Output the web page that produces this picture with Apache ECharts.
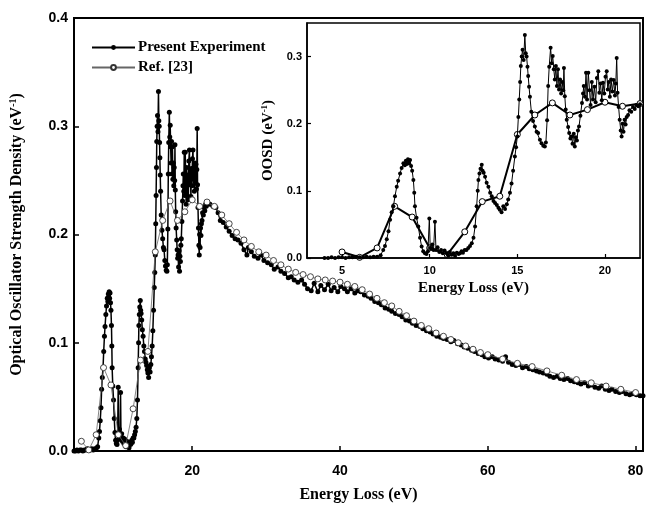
<!DOCTYPE html>
<html><head><meta charset="utf-8">
<script src="https://cdn.jsdelivr.net/npm/echarts@6/dist/echarts.min.js"></script>
<style>html,body{margin:0;padding:0;background:#fff}#c{width:647px;height:508px}</style>
</head><body><div id="c"></div>
<script>
// ---- data ----
var expEnergy = [4.0,4.2,4.4,4.6,4.8,5.0,5.2,5.4,5.6,5.8,6.0,6.2,6.4,6.6,6.8,7.0,7.2,
7.35,7.45,7.55,7.65,7.74,7.83,7.93,8.02,8.12,8.2,8.31,8.4,8.5,8.58,8.64,8.7,8.76,8.82,8.88,8.94,9.0,9.07,9.12,9.16,9.25,9.35,9.45,9.54,9.63,9.73,9.82,9.9,
9.98,10.03,10.1,10.15,10.22,10.3,10.36,10.45,10.55,10.65,10.75,10.85,10.97,11.05,11.15,11.25,11.35,11.45,11.55,11.65,11.73,11.82,11.9,12.0,12.1,12.2,12.3,12.4,12.5,12.59,12.68,12.74,12.78,12.84,12.9,12.97,13.02,13.08,13.16,13.25,13.35,13.45,13.54,13.64,13.73,13.83,13.92,14.0,14.1,14.2,14.3,14.4,14.48,14.58,14.67,14.76,14.86,14.93,15.0,15.06,15.11,15.16,15.2,15.25,15.3,15.36,15.43,15.48,15.53,15.58,15.62,15.67,15.72,15.8,15.9,16.0,16.1,16.19,16.29,16.38,16.48,16.57,16.63,16.7,16.76,16.82,16.9,16.96,17.02,17.08,17.14,17.2,17.26,17.32,17.38,17.44,17.5,17.56,17.62,17.66,17.71,17.76,17.82,17.9,17.96,18.03,18.09,18.15,18.22,18.28,18.34,18.4,18.46,18.52,18.6,18.69,18.75,18.79,18.86,18.92,18.98,19.05,19.12,19.18,19.25,19.32,19.4,19.47,19.54,19.62,19.68,19.75,19.82,19.89,19.96,20.03,20.1,20.16,20.22,20.28,20.35,20.42,20.5,20.57,20.62,20.67,20.72,20.78,20.84,20.9,20.95,21.0,21.06,21.12,21.18,21.24,21.32,21.4,21.5,21.6,21.7,21.8,21.9,
22.0,22.4,22.8,23.2,23.5,23.8,24.2,24.6,25.0,25.4,25.8,26.2,26.6,27.0,27.4,27.6,28.0,28.4,28.9,29.3,29.7,30.2,30.7,31.1,31.6,32.0,32.5,33.0,33.4,33.8,34.3,34.8,35.2,35.6,36.1,36.5,37.0,37.4,37.9,38.4,38.8,39.2,39.7,40.1,40.6,41.0,41.5,42.0,42.4,42.8,43.3,43.8,44.2,44.7,45.2,45.6,46.1,46.6,47.0,47.5,48.0,48.4,48.9,49.4,49.8,50.3,50.8,51.2,51.7,52.2,52.6,53.1,53.6,54.0,54.5,55.0,55.4,55.9,56.4,56.8,57.3,57.8,58.2,58.7,59.2,59.6,60.1,60.6,61.0,61.5,62.0,62.4,62.8,63.3,63.8,64.2,64.7,65.2,65.6,66.1,66.6,67.0,67.5,68.0,68.4,68.9,69.4,69.8,70.3,70.8,71.2,71.7,72.2,72.6,73.1,73.6,74.0,74.5,75.0,75.4,75.9,76.4,76.8,77.3,77.8,78.2,78.7,79.2,79.6,80.1,80.6,81.0];
var expOSD = [0.000,0.000,0.001,0.000,0.001,0.001,0.000,0.001,0.001,0.002,0.001,0.001,0.002,0.001,0.002,0.002,0.004,
0.012,0.018,0.028,0.040,0.057,0.068,0.077,0.092,0.106,0.115,0.126,0.134,0.141,0.138,0.145,0.140,0.147,0.141,0.146,0.137,0.130,0.116,0.097,0.077,0.060,0.047,0.030,0.017,0.010,0.007,0.006,0.010,
0.059,0.015,0.014,0.020,0.012,0.054,0.012,0.016,0.009,0.012,0.007,0.011,0.007,0.004,0.009,0.005,0.007,0.003,0.008,0.006,0.007,0.010,0.008,0.012,0.012,0.015,0.018,0.022,0.030,0.047,0.077,0.100,0.116,0.126,0.133,0.139,0.130,0.127,0.121,0.112,0.106,0.097,0.092,0.085,0.082,0.079,0.075,0.072,0.068,0.077,0.073,0.080,0.087,0.097,0.111,0.130,0.151,0.165,0.181,0.210,0.236,0.262,0.286,0.300,0.310,0.295,0.332,0.305,0.300,0.285,0.271,0.255,0.240,0.218,0.204,0.196,0.188,0.186,0.176,0.171,0.167,0.166,0.172,0.205,0.256,0.285,0.313,0.290,0.301,0.281,0.266,0.286,0.256,0.281,0.251,0.266,0.245,0.262,0.250,0.283,0.241,0.221,0.206,0.195,0.186,0.178,0.181,0.170,0.185,0.166,0.180,0.175,0.190,0.196,0.212,0.231,0.245,0.256,0.240,0.276,0.236,0.276,0.250,0.228,0.262,0.236,0.255,0.232,0.268,0.278,0.246,0.260,0.235,0.261,0.245,0.270,0.278,0.251,0.262,0.240,0.266,0.248,0.265,0.242,0.260,0.298,0.246,0.225,0.206,0.190,0.181,0.200,0.188,0.206,0.199,0.210,0.213,0.220,0.218,0.225,0.222,0.228,0.226,
0.229,0.228,0.226,0.225,0.220,0.213,0.211,0.207,0.203,0.199,0.196,0.195,0.192,0.186,0.181,0.188,0.184,0.180,0.178,0.181,0.176,0.174,0.172,0.168,0.170,0.166,0.164,0.160,0.161,0.158,0.156,0.158,0.154,0.150,0.148,0.155,0.147,0.153,0.149,0.154,0.148,0.151,0.147,0.152,0.150,0.147,0.150,0.146,0.148,0.147,0.144,0.143,0.141,0.138,0.137,0.135,0.132,0.131,0.129,0.127,0.126,0.124,0.121,0.120,0.118,0.116,0.115,0.113,0.111,0.110,0.108,0.106,0.105,0.104,0.103,0.101,0.102,0.099,0.098,0.096,0.095,0.093,0.092,0.090,0.089,0.087,0.086,0.087,0.085,0.084,0.083,0.087,0.082,0.080,0.079,0.080,0.077,0.078,0.076,0.075,0.074,0.073,0.072,0.071,0.069,0.068,0.069,0.067,0.066,0.067,0.065,0.064,0.063,0.062,0.063,0.060,0.061,0.059,0.058,0.060,0.057,0.056,0.057,0.055,0.054,0.055,0.053,0.052,0.053,0.052,0.051,0.051];
var refEnergy = [5,6,7,8,9,10,11,12,13,14,15,16,17,18,19,20,21,22,23,24,25,26,27,28,29,30,31,32,33,34,35,36,37,38,39,40,41,42,43,44,45,46,47,48,49,50,51,52,53,54,55,56,57,58,59,60,62,64,66,68,70,72,74,76,78,80];
var refOSD = [0.009,0.001,0.015,0.077,0.061,0.015,0.005,0.039,0.084,0.092,0.184,0.213,0.231,0.213,0.221,0.232,0.226,0.230,0.226,0.218,0.210,0.202,0.195,0.189,0.184,0.181,0.176,0.172,0.168,0.165,0.163,0.161,0.159,0.158,0.157,0.156,0.154,0.152,0.149,0.145,0.141,0.137,0.134,0.129,0.125,0.120,0.116,0.113,0.109,0.106,0.103,0.100,0.097,0.094,0.091,0.089,0.085,0.081,0.078,0.074,0.070,0.066,0.063,0.060,0.057,0.054];
var mainXTicks = [20,40,60,80];
var insetXTicks = [5,10,15,20];
var insetYTicks = [0,0.1,0.2,0.3];

// ---- build ----
var expData = expEnergy.map(function(e,i){return [e, expOSD[i]];});
var refData = refEnergy.map(function(e,i){return [e, refOSD[i]];});
var expInset = expData.filter(function(d){return d[0] <= 22.05;});
var refInset = refData.filter(function(d){return d[0] <= 22.05;});

var SANS = 'Liberation Sans', SERIF = 'Liberation Serif';
function fmt(v){return v.toFixed(1);}
var chart = echarts.init(document.getElementById('c'), null, {renderer:'canvas'});
chart.setOption({
  animation:false,
  backgroundColor:'#fff',
  grid:[
    {left:72, top:18, right:4, bottom:49, show:true, borderColor:'#000', borderWidth:2, backgroundColor:'#fff'},
    {left:307, top:23, right:7, bottom:250, show:true, borderColor:'#000', borderWidth:1.5, backgroundColor:'#fff', z:3}
  ],
  legend:{
    data:['Present Experiment','Ref. [23]'],
    orient:'vertical', left:86, top:35, itemWidth:43, itemHeight:6, itemGap:5,
    textStyle:{fontFamily:SERIF, fontWeight:'bold', fontSize:15, color:'#000', padding:[0,0,0,-2]}
  },
  xAxis:[
    {type:'value', gridIndex:0, min:4, max:81,
     name:'Energy Loss (eV)', nameLocation:'middle', nameGap:36,
     nameTextStyle:{fontFamily:SERIF, fontWeight:'bold', fontSize:16, color:'#000'},
     axisLine:{show:true, lineStyle:{color:'#000', width:2}},
     axisTick:{show:true, inside:true, length:5, lineStyle:{color:'#000', width:1.5}, customValues:mainXTicks},
     axisLabel:{fontFamily:SANS, fontWeight:'bold', fontSize:14, color:'#000', margin:13, customValues:mainXTicks},
     splitLine:{show:false}},
    {type:'value', gridIndex:1, min:3, max:22, z:5,
     name:'Energy Loss (eV)', nameLocation:'middle', nameGap:23,
     nameTextStyle:{fontFamily:SERIF, fontWeight:'bold', fontSize:15, color:'#000'},
     axisLine:{show:true, lineStyle:{color:'#000', width:1.5}},
     axisTick:{show:true, inside:true, length:4, lineStyle:{color:'#000', width:1.2}, customValues:insetXTicks},
     axisLabel:{fontFamily:SANS, fontWeight:'bold', fontSize:11, color:'#000', margin:7, customValues:insetXTicks},
     splitLine:{show:false}}
  ],
  yAxis:[
    {type:'value', gridIndex:0, min:0, max:0.4, interval:0.1,
     name:'{a|Optical Oscillator Strength Density (eV}{s|-1}{a|)}', nameLocation:'middle', nameGap:48,
     nameTextStyle:{rich:{a:{fontFamily:SERIF, fontWeight:'bold', fontSize:16, color:'#000'}, s:{fontFamily:SERIF, fontWeight:'bold', fontSize:10, color:'#000', verticalAlign:'top', padding:[0,0,8,0]}}},
     axisLine:{show:true, lineStyle:{color:'#000', width:2}},
     axisTick:{show:true, inside:true, length:5, lineStyle:{color:'#000', width:1.5}},
     axisLabel:{fontFamily:SANS, fontWeight:'bold', fontSize:14, color:'#000', margin:6, formatter:fmt},
     splitLine:{show:false}},
    {type:'value', gridIndex:1, min:0, max:0.35, z:5,
     name:'{a|OOSD (eV}{s|-1}{a|)}', nameLocation:'middle', nameGap:30,
     nameTextStyle:{rich:{a:{fontFamily:SERIF, fontWeight:'bold', fontSize:15, color:'#000'}, s:{fontFamily:SERIF, fontWeight:'bold', fontSize:9, color:'#000', verticalAlign:'top', padding:[0,0,8,0]}}},
     axisLine:{show:true, lineStyle:{color:'#000', width:1.5}},
     axisTick:{show:true, inside:true, length:4, lineStyle:{color:'#000', width:1.2}, customValues:insetYTicks},
     axisLabel:{fontFamily:SANS, fontWeight:'bold', fontSize:11, color:'#000', margin:5, formatter:fmt, customValues:insetYTicks},
     splitLine:{show:false}}
  ],
  series:[
    {name:'Present Experiment', type:'line', xAxisIndex:0, yAxisIndex:0, data:expData, z:2,
     symbol:'circle', symbolSize:5, showAllSymbol:true,
     lineStyle:{color:'#000', width:1.5},
     itemStyle:{color:'#000'}},
    {name:'Ref. [23]', type:'line', xAxisIndex:0, yAxisIndex:0, data:refData, z:3,
     symbol:'circle', symbolSize:6, showAllSymbol:true,
     lineStyle:{color:'#666', width:0.8},
     itemStyle:{color:'#fff', borderColor:'#333', borderWidth:0.9}},
    {name:'Ref. [23]', type:'line', xAxisIndex:1, yAxisIndex:1, data:refInset, z:4,
     symbol:'circle', symbolSize:6, showAllSymbol:true,
     lineStyle:{color:'#000', width:2},
     itemStyle:{color:'#fff', borderColor:'#000', borderWidth:1}},
    {name:'Present Experiment', type:'line', xAxisIndex:1, yAxisIndex:1, data:expInset, z:5,
     symbol:'circle', symbolSize:4, showAllSymbol:true,
     lineStyle:{color:'#000', width:1},
     itemStyle:{color:'#000'}}
  ]
});
</script></body></html>
